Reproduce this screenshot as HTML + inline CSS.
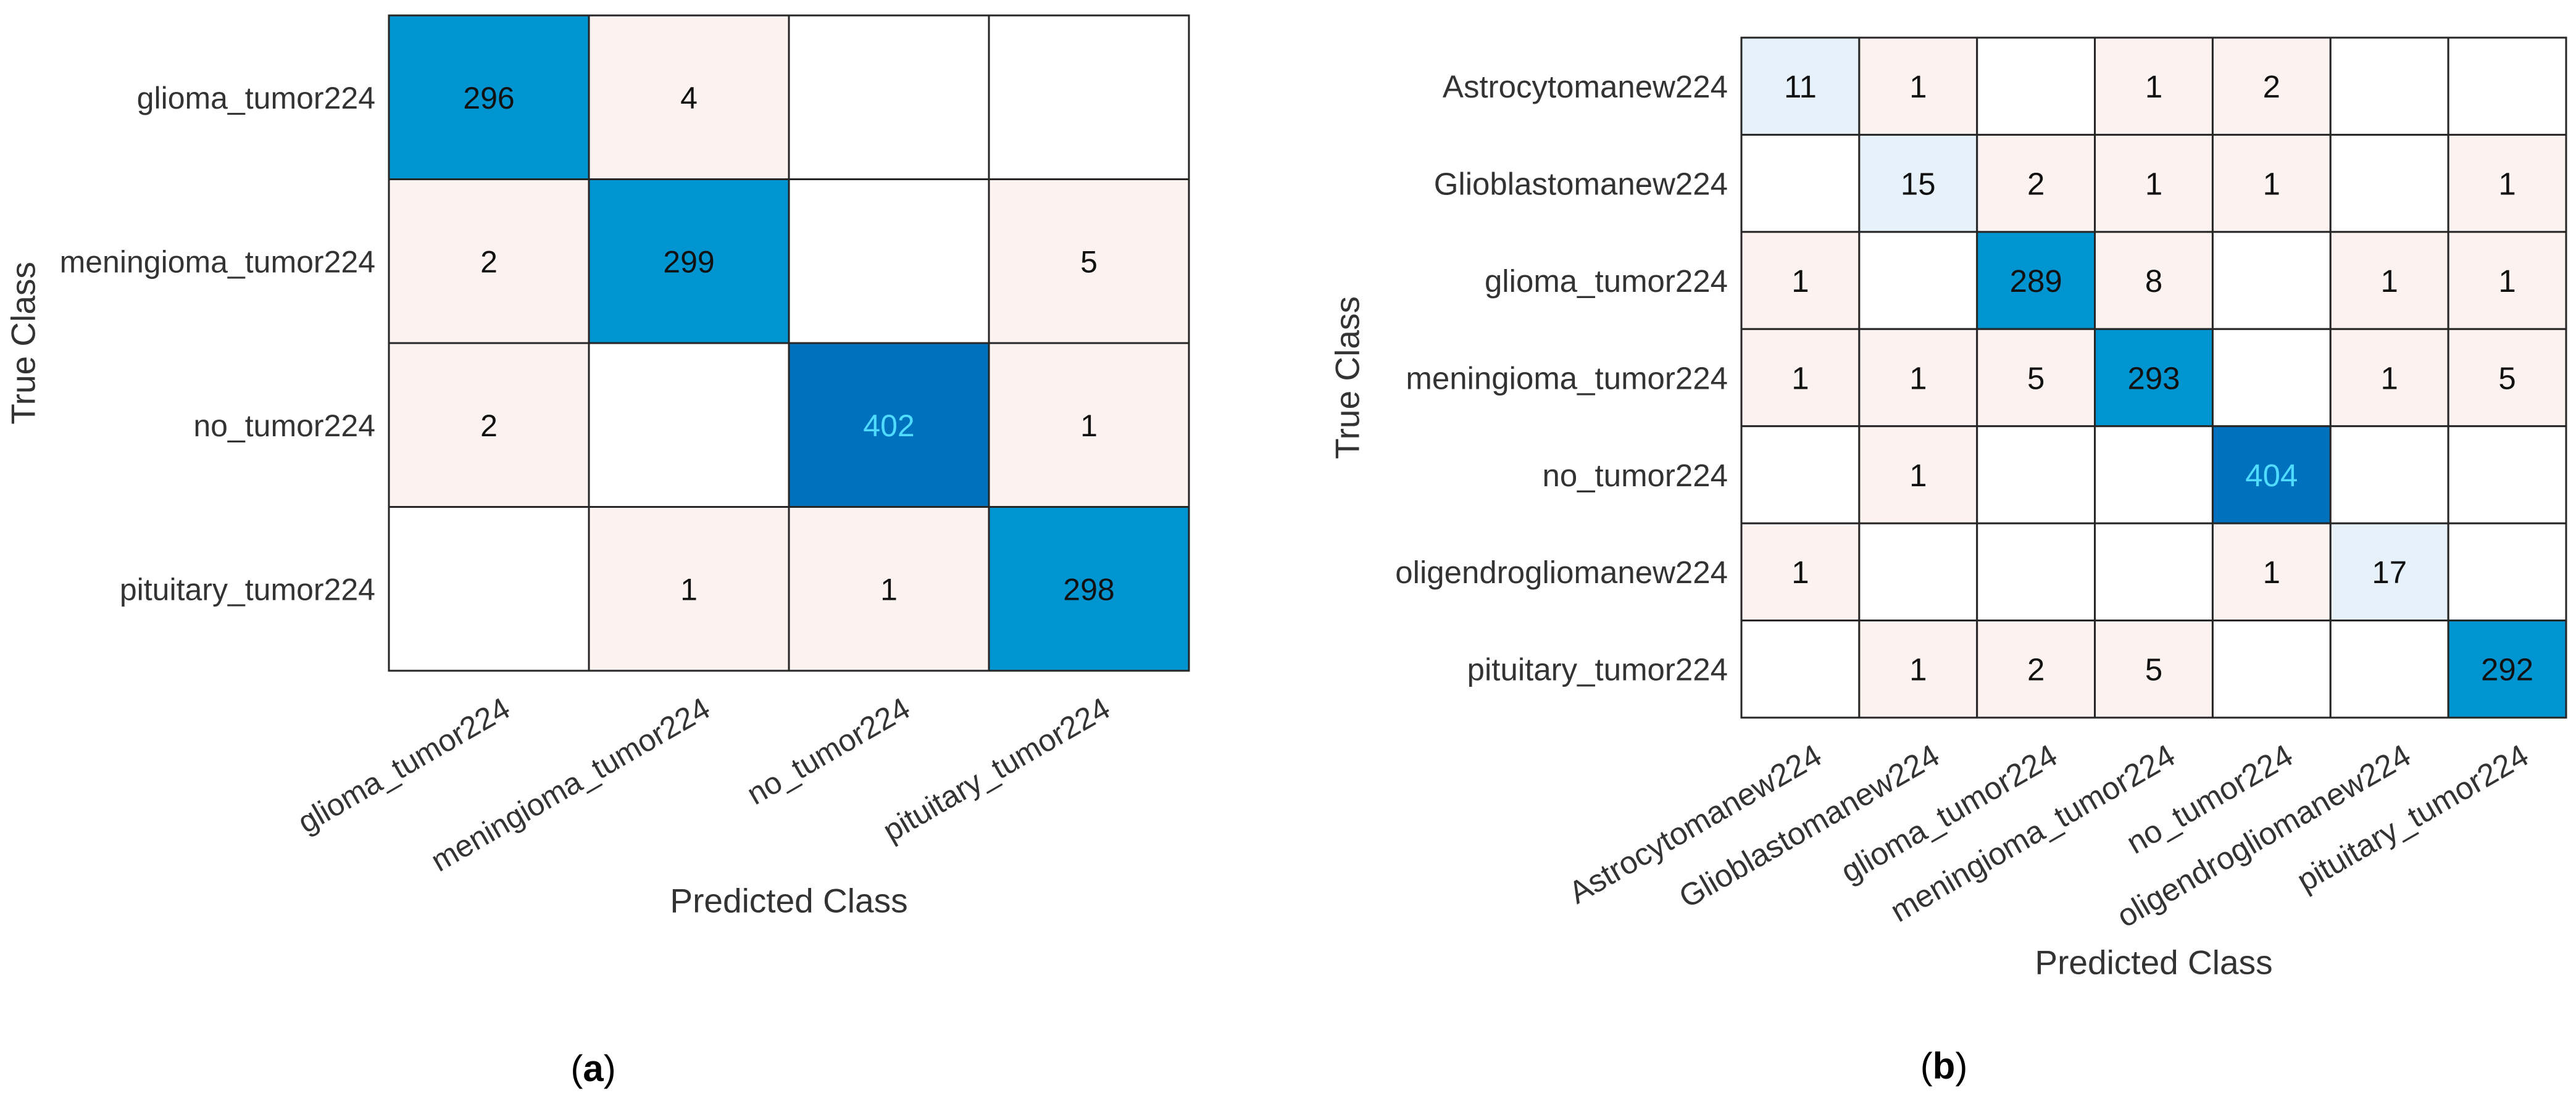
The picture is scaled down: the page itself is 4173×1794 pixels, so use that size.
<!DOCTYPE html>
<html><head><meta charset="utf-8"><style>
html,body{margin:0;padding:0;background:#fff;}
svg{display:block;}
text{font-family:"Liberation Sans",Arial,sans-serif;}
</style></head><body>
<svg id="fig" width="4173" height="1794" viewBox="0 0 4173 1794" xmlns="http://www.w3.org/2000/svg">
<rect width="4173" height="1794" fill="#fff"/>
<g id="panelA"></g>
<g id="panelB"></g>
<text x="961" y="1752" text-anchor="middle" font-family="Liberation Serif, serif" font-size="60" fill="#000">(<tspan font-weight="bold">a</tspan>)</text>
<text x="3149" y="1748" text-anchor="middle" font-family="Liberation Serif, serif" font-size="60" fill="#000">(<tspan font-weight="bold">b</tspan>)</text>
</svg>
<script>
const classesA = ["glioma_tumor224","meningioma_tumor224","no_tumor224","pituitary_tumor224"];
const valuesA = [
  [296,4,0,0],
  [2,299,0,5],
  [2,0,402,1],
  [0,1,1,298]
];
const classesB = ["Astrocytomanew224","Glioblastomanew224","glioma_tumor224","meningioma_tumor224","no_tumor224","oligendrogliomanew224","pituitary_tumor224"];
const valuesB = [
  [11,1,0,1,2,0,0],
  [0,15,2,1,1,0,1],
  [1,0,289,8,0,1,1],
  [1,1,5,293,0,1,5],
  [0,1,0,0,404,0,0],
  [1,0,0,0,1,17,0],
  [0,1,2,5,0,0,292]
];
const NS = "http://www.w3.org/2000/svg";
function mk(tag, attrs, parent){
  const e = document.createElementNS(NS, tag);
  for (const k in attrs) e.setAttribute(k, attrs[k]);
  parent.appendChild(e);
  return e;
}
function cellColor(v, diag){
  if (v === 0) return "#ffffff";
  if (!diag) return "#fcf3f0";
  if (v >= 400) return "#0072bd";
  if (v >= 100) return "#0095d0";
  return "#e7f1fa";
}
function draw(g, classes, vals, L, T, R, B, fs, titleFs, yTitleX, xTitleY){
  const n = classes.length;
  const cw = (R - L) / n, ch = (B - T) / n;
  const xs = i => L + i * cw;
  const ys = i => T + i * ch;
  for (let r = 0; r < n; r++){
    for (let c = 0; c < n; c++){
      const v = vals[r][c];
      const rect = mk("rect", {x: xs(c), y: ys(r), width: cw, height: ch, fill: cellColor(v, r === c), stroke: "#262626", "stroke-width": 3}, g);
      
      
      if (v !== 0){
        const t = mk("text", {x: xs(c) + cw/2, y: ys(r) + ch/2 + fs*0.36, "text-anchor": "middle", "font-size": fs, fill: v >= 400 ? "#4fdcff" : "#111"}, g);
        t.textContent = v;
        
        
      }
    }
  }
  mk("rect", {x: L, y: T, width: R - L, height: B - T, fill: "none", stroke: "#262626", "stroke-width": 3}, g);
  for (let i = 0; i < n; i++){
    const yl = mk("text", {x: L - 22, y: ys(i) + ch/2 + fs*0.36, "text-anchor": "end", "font-size": fs, fill: "#333"}, g);
    yl.textContent = classes[i];
    
    
    const px = xs(i) + cw/2 + 20, py = B + 40;
    const xl = mk("text", {x: px, y: py, "text-anchor": "end", "dominant-baseline": "hanging", "font-size": fs, fill: "#333", transform: "rotate(-30 " + px + " " + py + ")"}, g);
    xl.textContent = classes[i];
    
    
  }
  const yt = mk("text", {x: yTitleX, y: (T + B)/2, "text-anchor": "middle", "font-size": titleFs, fill: "#333", transform: "rotate(-90 " + yTitleX + " " + (T + B)/2 + ")", "dominant-baseline": "middle"}, g);
  yt.textContent = "True Class";
  
  
  const xt = mk("text", {x: (L + R)/2, y: xTitleY, "text-anchor": "middle", "font-size": titleFs, fill: "#333", "dominant-baseline": "middle"}, g);
  xt.textContent = "Predicted Class";
  
  
}
draw(document.getElementById("panelA"), classesA, valuesA, 630, 25, 1926, 1087, 50, 55, 42, 1464);
draw(document.getElementById("panelB"), classesB, valuesB, 2821, 61, 4157, 1163, 51, 55, 2187, 1564);
</script>
</body></html>
